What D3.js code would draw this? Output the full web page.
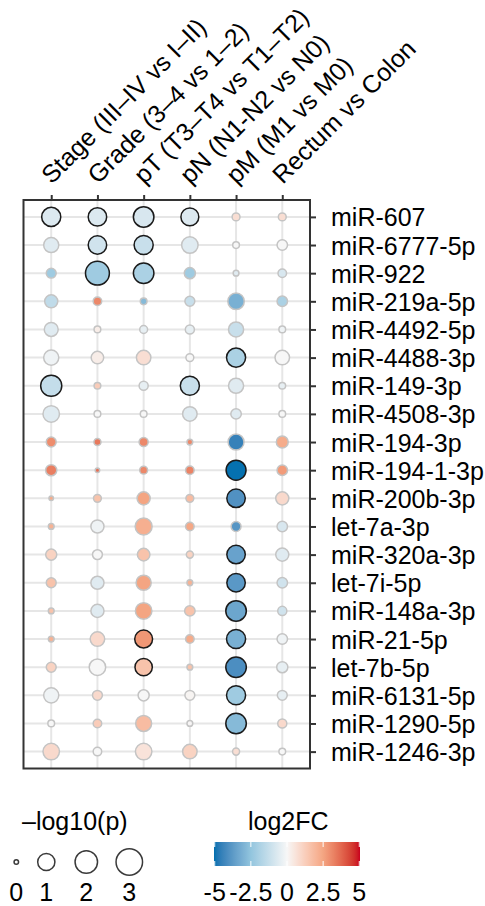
<!DOCTYPE html>
<html>
<head>
<meta charset="utf-8">
<script src="https://cdn.jsdelivr.net/npm/d3@7"></script>
<style>
  html, body { margin: 0; padding: 0; background: #fff; }
  svg { display: block; }
  text { font-family: "Liberation Sans", Arial, Helvetica, sans-serif; fill: #000; }
</style>
</head>
<body>
<svg id="chart" width="485" height="906"></svg>
<script>
// ---------------- data ----------------
const comparisons = ["Stage (III–IV vs I–II)", "Grade (3–4 vs 1–2)", "pT (T3–T4 vs T1–T2)",
                     "pN (N1-N2 vs N0)", "pM (M1 vs M0)", "Rectum vs Colon"];
const mirnas = ["miR-607", "miR-6777-5p", "miR-922", "miR-219a-5p", "miR-4492-5p", "miR-4488-3p",
                "miR-149-3p", "miR-4508-3p", "miR-194-3p", "miR-194-1-3p", "miR-200b-3p", "let-7a-3p",
                "miR-320a-3p", "let-7i-5p", "miR-148a-3p", "miR-21-5p", "let-7b-5p", "miR-6131-5p",
                "miR-1290-5p", "miR-1246-3p"];
// log2 fold change, one row per miRNA, columns follow `comparisons`
const log2FC = [
  [-0.7, -0.7, -0.8, -0.7,  0.75,  0.75],
  [-0.6, -1.0, -1.2, -0.6,  0.0,   0.0],
  [-2.2, -2.2, -1.9, -2.2, -0.6,  -0.8],
  [-1.4,  3.1, -2.8, -1.2, -3.1,  -1.9],
  [-0.6,  0.3, -0.4, -0.4, -1.2,  -0.2],
  [-0.2,  0.3,  0.75, 0.0, -1.9,   0.0],
  [-1.3,  1.3, -0.4, -1.2, -0.6,  -0.4],
  [-0.6,  0.0,  0.0, -0.6, -0.6,   0.0],
  [ 3.0,  3.4,  3.1,  3.1, -4.5,   2.3],
  [ 3.3,  3.6,  3.1,  3.2, -5.0,   2.7],
  [ 2.3,  1.6,  2.5,  1.8, -4.0,   0.9],
  [ 2.1, -0.2,  2.2,  2.4, -3.9,  -0.8],
  [ 1.1,  0.0,  1.6,  1.1, -3.5,  -0.6],
  [ 1.6, -0.6,  2.5,  2.1, -3.8,  -1.0],
  [ 1.6, -0.6,  2.5,  1.6, -3.4,  -1.0],
  [ 2.1,  0.9,  2.8,  2.3, -3.1,  -0.2],
  [ 1.1,  0.0,  1.6,  1.6, -4.1,  -0.4],
  [-0.2,  0.9,  0.0,  0.1, -2.2,  -0.4],
  [ 0.0,  1.3,  1.8,  0.05,-2.8,   0.9],
  [ 0.9,  0.0,  0.6,  1.1,  0.75,  0.0]
];
// -log10(p)
const negLog10P = [
  [1.32, 1.21, 1.59, 1.11, 0.07, 0.07],
  [0.70, 1.21, 1.32, 0.89, 0.03, 0.22],
  [0.18, 2.33, 1.59, 0.27, 0.01, 0.10],
  [0.46, 0.10, 0.03, 0.18, 0.89, 0.22],
  [0.55, 0.03, 0.07, 0.13, 0.70, 0.03],
  [0.70, 0.40, 0.62, 0.07, 1.32, 0.62],
  [1.71, 0.03, 0.13, 1.32, 0.70, 0.03],
  [0.89, 0.03, 0.03, 0.62, 0.22, 0.03],
  [0.18, 0.04, 0.13, 0.01, 0.81, 0.34],
  [0.27, 0.00, 0.07, 0.10, 1.47, 0.22],
  [0.00, 0.07, 0.46, 0.07, 1.21, 0.46],
  [0.01, 0.46, 0.96, 0.10, 0.18, 0.22],
  [0.27, 0.18, 0.40, 0.04, 1.21, 0.46],
  [0.18, 0.46, 0.70, 0.01, 1.21, 0.22],
  [0.01, 0.46, 0.89, 0.22, 1.59, 0.13],
  [0.01, 0.62, 1.11, 0.10, 1.32, 0.22],
  [0.18, 0.89, 1.02, 0.01, 1.59, 0.27],
  [0.70, 0.18, 0.27, 0.18, 1.32, 0.18],
  [0.03, 0.10, 0.81, 0.01, 1.59, 0.13],
  [0.89, 0.10, 0.89, 0.62, 0.04, 0.03]
];
const sigThreshold = 1;            // -log10(p) at/above which circles get a black outline
const sizeBreaks = [0, 1, 2, 3];
const colorBreaks = [-5, -2.5, 0, 2.5, 5];
const colorBreakLabels = ["-5", "-2.5", "0", "2.5", "5"];
const paletteColors = ["#0571b0", "#92c5de", "#f7f7f7", "#f4a582", "#ca0020"];

// ---------------- layout ----------------
const svg = d3.select("#chart");
const P = { left: 23.5, right: 310, top: 200, bottom: 768.5 };
const fs = 25;

const x = d3.scalePoint().domain(comparisons).range([P.left, P.right]).padding(0.6);
const y = d3.scalePoint().domain(mirnas).range([P.top, P.bottom]).padding(0.6);
const rOuter = d3.scaleSqrt().domain([0, 3]).range([3, 14]);
const color = d3.scaleLinear().domain(colorBreaks).range(paletteColors).interpolate(d3.interpolateLab);

const cells = [];
mirnas.forEach((m, i) => comparisons.forEach((c, j) => {
  cells.push({ m, c, fc: log2FC[i][j], p: negLog10P[i][j] });
}));

// panel background
svg.append("rect").attr("x", P.left).attr("y", P.top)
  .attr("width", P.right - P.left).attr("height", P.bottom - P.top).attr("fill", "#fff");

// grid
const grid = svg.append("g").attr("stroke", "#e6e6e6").attr("stroke-width", 2);
grid.selectAll("line.v").data(comparisons).join("line")
  .attr("x1", d => x(d)).attr("x2", d => x(d)).attr("y1", P.top).attr("y2", P.bottom);
grid.selectAll("line.h").data(mirnas).join("line")
  .attr("y1", d => y(d)).attr("y2", d => y(d)).attr("x1", P.left).attr("x2", P.right);

// points
const SW = 1.5;
svg.append("g").selectAll("circle").data(cells).join("circle")
  .attr("cx", d => x(d.c)).attr("cy", d => y(d.m))
  .attr("r", d => rOuter(d.p) - SW / 2)
  .attr("fill", d => color(d.fc))
  .attr("stroke", d => d.p >= sigThreshold ? "#1a1a1a" : "#c4c4c4")
  .attr("stroke-width", SW);

// border
svg.append("rect").attr("x", P.left).attr("y", P.top)
  .attr("width", P.right - P.left).attr("height", P.bottom - P.top)
  .attr("fill", "none").attr("stroke", "#333").attr("stroke-width", 2);

// right axis
const ay = svg.append("g").attr("transform", `translate(${P.right},0)`)
  .call(d3.axisRight(y).tickSize(6).tickPadding(15));
ay.select(".domain").remove();
ay.selectAll(".tick line").attr("stroke", "#333").attr("stroke-width", 2);
ay.selectAll(".tick text").attr("font-size", fs).attr("fill", "#000")
  .attr("font-family", "Liberation Sans, Arial, sans-serif").attr("dy", "0.36em");

// top axis
const ax = svg.append("g").attr("transform", `translate(0,${P.top})`)
  .call(d3.axisTop(x).tickSize(5));
ax.select(".domain").remove();
ax.selectAll(".tick line").attr("stroke", "#333").attr("stroke-width", 2);
ax.selectAll(".tick text").attr("font-size", fs).attr("fill", "#000")
  .attr("font-family", "Liberation Sans, Arial, sans-serif")
  .attr("x", 0).attr("y", 0).attr("dy", 0)
  .attr("text-anchor", "start")
  .attr("transform", "translate(0,-15) rotate(-45)");

// ---------------- size legend ----------------
svg.append("text").attr("x", 22).attr("y", 830).attr("font-size", fs).text("–log10(p)");
const sizeLegendX = [16.3, 46.3, 86.3, 129.3];
const sl = svg.append("g");
sl.selectAll("circle").data(sizeBreaks).join("circle")
  .attr("cx", (d, i) => sizeLegendX[i]).attr("cy", 862)
  .attr("r", d => rOuter(d) - 0.75)
  .attr("fill", "#fff").attr("stroke", "#3a3a3a").attr("stroke-width", 1.5);
sl.selectAll("text").data(sizeBreaks).join("text")
  .attr("x", (d, i) => sizeLegendX[i]).attr("y", 901)
  .attr("text-anchor", "middle").attr("font-size", fs).text(d => d);

// ---------------- colour legend ----------------
const cb = d3.scaleLinear().domain([-5.05, 5.05]).range([214, 360]);
svg.append("text").attr("x", 288.3).attr("y", 830).attr("text-anchor", "middle")
  .attr("font-size", fs).text("log2FC");
const defs = svg.append("defs");
const grad = defs.append("linearGradient").attr("id", "fcgrad")
  .attr("x1", "0%").attr("x2", "100%").attr("y1", "0%").attr("y2", "0%");
d3.range(0, 1.0001, 0.02).forEach(t => {
  grad.append("stop").attr("offset", `${t * 100}%`)
    .attr("stop-color", color(cb.domain()[0] + t * (cb.domain()[1] - cb.domain()[0])));
});
svg.append("rect").attr("x", cb.range()[0]).attr("y", 842)
  .attr("width", cb.range()[1] - cb.range()[0]).attr("height", 24).attr("fill", "url(#fcgrad)");
const cbt = svg.append("g").attr("stroke", "#fff").attr("stroke-width", 1);
cbt.selectAll("line.t").data(colorBreaks).join("line")
  .attr("x1", d => cb(d)).attr("x2", d => cb(d)).attr("y1", 842).attr("y2", 847);
cbt.selectAll("line.b").data(colorBreaks).join("line").attr("class", "b")
  .attr("x1", d => cb(d)).attr("x2", d => cb(d)).attr("y1", 861).attr("y2", 866);
svg.append("g").selectAll("text").data(colorBreaks).join("text")
  .attr("x", d => cb(d)).attr("y", 901).attr("text-anchor", "middle")
  .attr("font-size", fs).text((d, i) => colorBreakLabels[i]);
</script>
</body>
</html>
